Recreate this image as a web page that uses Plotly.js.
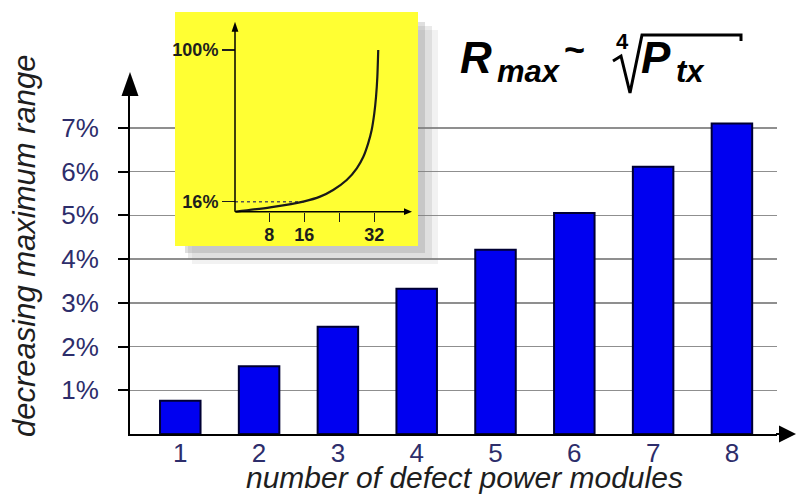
<!DOCTYPE html>
<html><head><meta charset="utf-8">
<script src="https://cdn.plot.ly/plotly-3.0.1.min.js"></script>
<style>html,body{margin:0;padding:0;background:#fff}</style>
</head><body><div id="chart" style="width:796px;height:495px"></div>
<script>
// ---- data ----
const categories = ['1','2','3','4','5','6','7','8'];
const moduleCounts = [1,2,3,4,5,6,7,8];
const rangeDecrease = [0.76,1.55,2.45,3.32,4.21,5.05,6.11,7.10];
const yTickVals = [1,2,3,4,5,6,7];
const yTickText = ['1%','2%','3%','4%','5%','6%','7%'];
const insetModules = [0.4, 8.2, 16.0, 19.6, 22.6, 25.7, 28.0, 29.5, 30.6, 31.4, 32.0, 32.4, 32.7, 32.9];
const insetLoss    = [10.5, 12.9, 16.2, 18.8, 22.5, 28.0, 34.5, 40.9, 48.3, 55.7, 64.9, 74.1, 85.2, 100];
const insetTickVals = [8,16,24,32];
const insetTickText = ['8','16','','32'];
const insetYTickVals = [16,100];
const insetYTickText = ['16%','100%'];
const insetRefModules = [0.16, 16];
const insetRefLoss = [16, 16];

// ---- geometry helpers (pixel -> paper) ----
const W = 796, H = 495;
const px = v => v / W;
const py = v => 1 - v / H;
const path = (pts, close) => pts.map((p, i) => (i ? 'L' : 'M') + px(p[0]).toFixed(5) + ',' + py(p[1]).toFixed(5)).join(' ') + (close ? ' Z' : '');

const FONT = '"Liberation Sans", Arial, Helvetica, sans-serif';
const tickFont = {family: FONT, size: 26, color: '#2d2d6b'};
const insetFont = {family: FONT, size: 18, color: '#1e1e1e', weight: 'bold'};

const traces = [
  {type: 'bar', x: moduleCounts, y: rangeDecrease, xaxis: 'x', yaxis: 'y',
   marker: {color: '#0000f0', line: {color: '#000033', width: 2}}, hoverinfo: 'skip'},
  {type: 'scatter', mode: 'lines', x: insetRefModules, y: insetRefLoss, xaxis: 'x2', yaxis: 'y2',
   line: {color: '#555', width: 1.5, dash: 'dot'}, hoverinfo: 'skip'},
  {type: 'scatter', mode: 'lines', x: insetModules, y: insetLoss, xaxis: 'x2', yaxis: 'y2',
   line: {color: '#1a1a1a', width: 2.2, shape: 'spline', smoothing: 0.7}, hoverinfo: 'skip'}
];

const shapeAbove = (pts, close, fill, width, opacity) => ({
  type: 'path', xref: 'paper', yref: 'paper', layer: 'above', path: path(pts, close),
  fillcolor: fill || 'rgba(0,0,0,0)', opacity: opacity == null ? 1 : opacity,
  line: {color: width ? '#000' : 'rgba(0,0,0,0)', width: width || 0}
});

const shapes = [
  // yellow inset background (in inset subplot, drawn above the main chart)
  {type: 'rect', xref: 'x2', yref: 'y2', x0: -13.55, x1: 41.99, y0: -8.53, y1: 121.04,
   fillcolor: '#ffff33', line: {width: 0}, layer: 'below'},
  // soft shadow of the inset
  shapeAbove([[418,30],[438,30],[438,264],[192,264],[192,246],[418,246]], true, '#808080', 0, 0.1),
  shapeAbove([[418,26],[432,26],[432,259],[188,259],[188,246],[418,246]], true, '#808080', 0, 0.17),
  shapeAbove([[418,22],[425,22],[425,253],[185,253],[185,246],[418,246]], true, '#808080', 0, 0.25),
  // main x-axis extension + arrowhead
  shapeAbove([[776,434],[782,434]], false, null, 2),
  shapeAbove([[779,425.5],[796,434],[779,442.5]], true, '#000', 0),
  // main y-axis arrowhead
  shapeAbove([[121.5,96],[130,72],[138.5,96]], true, '#000', 0),
  // inset axes
  shapeAbove([[235,211.7],[406,211.7]], false, null, 1.5),
  shapeAbove([[404,208.3],[412,211.7],[404,215.1]], true, '#000', 0),
  shapeAbove([[235,211.7],[235,30]], false, null, 1.5),
  shapeAbove([[231.6,31.7],[235,21.7],[238.4,31.7]], true, '#000', 0),
  // radical sign of the formula
  {type: 'path', xref: 'paper', yref: 'paper', layer: 'above',
   path: path([[613,61],[621,56],[630,93],[642,35],[741,35],[741,41]], false),
   line: {color: '#000', width: 3}}
];

const ann = (x, y, text, size, extra) => Object.assign({
  xref: 'paper', yref: 'paper', x: px(x), y: py(y), xanchor: 'left', yanchor: 'middle',
  showarrow: false, text: text, font: {family: FONT, size: size, color: '#000'}
}, extra || {});

const annotations = [
  ann(24, 246, '<i>decreasing maximum range</i>', 31,
      {xanchor: 'center', textangle: -90, font: {family: FONT, size: 31, color: '#1e1e1e'}}),
  ann(464, 477, '<i>number of defect power modules</i>', 30,
      {xanchor: 'center', font: {family: FONT, size: 30, color: '#1e1e1e'}}),
  ann(458, 58, '<b><i>R</i></b>', 44),
  ann(495, 71, '<b><i>max</i></b>', 31),
  ann(574, 50, '<b>~</b>', 36, {xanchor: 'center'}),
  ann(622, 42, '<b>4</b>', 22, {xanchor: 'center'}),
  ann(639, 58, '<b><i>P</i></b>', 44),
  ann(674, 71, '<b><i>tx</i></b>', 31)
];

const layout = {
  width: W, height: H, margin: {l: 0, r: 0, t: 0, b: 0},
  paper_bgcolor: '#ffffff', plot_bgcolor: 'rgba(0,0,0,0)', showlegend: false,
  bargap: 0.486,
  xaxis: {domain: [px(130), px(777)], range: [0.362, 8.572], tickvals: moduleCounts, ticktext: categories,
          ticks: '', showgrid: false, zeroline: false, showline: true, linecolor: '#000', linewidth: 2,
          tickfont: tickFont, ticklabelstandoff: -5, fixedrange: true},
  yaxis: {domain: [py(434), py(95)], range: [0, 7.749], tickvals: yTickVals, ticktext: yTickText,
          ticks: 'outside', ticklen: 10, tickwidth: 2, tickcolor: '#000',
          showgrid: true, gridcolor: '#8f8f8f', gridwidth: 1.5, zeroline: false,
          showline: true, linecolor: '#000', linewidth: 2, tickfont: tickFont, ticklabelstandoff: 14, fixedrange: true},
  xaxis2: {domain: [px(175), px(418)], range: [-13.55, 41.99], anchor: 'free', position: py(211.7),
           tickvals: insetTickVals, ticktext: insetTickText, ticks: 'outside', ticklen: 9, tickwidth: 1.5,
           tickcolor: '#1e1e1e', showgrid: false, zeroline: false, showline: false,
           tickfont: insetFont, ticklabelstandoff: -2, fixedrange: true},
  yaxis2: {domain: [py(246), py(12)], range: [-8.53, 121.04], anchor: 'free', position: px(235),
           tickvals: insetYTickVals, ticktext: insetYTickText, ticks: 'outside', ticklen: 13, tickwidth: 1.5,
           tickcolor: '#1e1e1e', showgrid: false, zeroline: false, showline: false,
           tickfont: insetFont, ticklabelstandoff: 0, fixedrange: true},
  shapes: shapes,
  annotations: annotations
};

Plotly.newPlot('chart', traces, layout, {staticPlot: true, displayModeBar: false});
</script>
</body></html>
